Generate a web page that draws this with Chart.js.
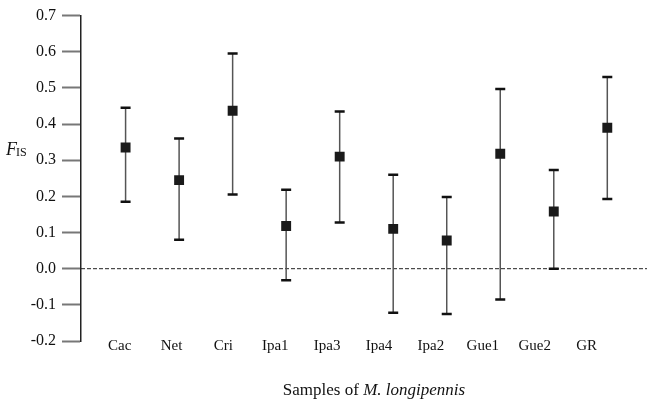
<!DOCTYPE html>
<html>
<head>
<meta charset="utf-8">
<script src="https://cdn.jsdelivr.net/npm/chart.js@4.4.0/dist/chart.umd.min.js"></script>
<style>
  html, body { margin: 0; padding: 0; background: #fff; }
  #wrap { width: 647px; height: 403px; }
</style>
</head>
<body>
<div id="wrap"><canvas id="fisChart" width="647" height="403"></canvas></div>
<script>
// samples and F_IS estimates with interval bounds
const samples = ["Cac", "Net", "Cri", "Ipa1", "Ipa3", "Ipa4", "Ipa2", "Gue1", "Gue2", "GR"];
const fisValues = [0.335, 0.245, 0.437, 0.118, 0.31, 0.11, 0.078, 0.318, 0.158, 0.39];
const upperValues = [0.445, 0.36, 0.595, 0.218, 0.435, 0.26, 0.198, 0.497, 0.273, 0.53];
const lowerValues = [0.185, 0.08, 0.205, -0.032, 0.128, -0.122, -0.125, -0.085, 0.0, 0.193];
const yTicks = [-0.2, -0.1, 0.0, 0.1, 0.2, 0.3, 0.4, 0.5, 0.6, 0.7];

const serif = "'Liberation Serif', 'DejaVu Serif', serif";

const points = samples.map((s, i) => ({ x: i, y: fisValues[i] }));

// error bars, zero line, category labels and axis titles
const extras = {
  id: "extras",
  beforeDatasetsDraw(chart) {
    const { ctx, chartArea } = chart;
    const xs = chart.scales.x;
    const ys = chart.scales.y;
    ctx.save();
    // dashed zero line
    const y0 = ys.getPixelForValue(0);
    ctx.strokeStyle = "#222";
    ctx.lineWidth = 1;
    ctx.setLineDash([4, 2]);
    ctx.beginPath();
    ctx.moveTo(chartArea.left, y0);
    ctx.lineTo(chart.width, y0);
    ctx.stroke();
    ctx.setLineDash([]);
    // error bars
    samples.forEach((s, i) => {
      const x = xs.getPixelForValue(i);
      const yt = ys.getPixelForValue(upperValues[i]);
      const yb = ys.getPixelForValue(lowerValues[i]);
      ctx.strokeStyle = "#555";
      ctx.lineWidth = 1.5;
      ctx.beginPath();
      ctx.moveTo(x, yt);
      ctx.lineTo(x, yb);
      ctx.stroke();
      ctx.strokeStyle = "#111";
      ctx.lineWidth = 2.5;
      ctx.beginPath();
      ctx.moveTo(x - 5, yt);
      ctx.lineTo(x + 5, yt);
      ctx.moveTo(x - 5, yb);
      ctx.lineTo(x + 5, yb);
      ctx.stroke();
    });
    ctx.restore();
  },
  afterDraw(chart) {
    const { ctx, chartArea } = chart;
    const xl = chart.scales.xLabels;
    ctx.save();
    ctx.fillStyle = "#111";
    // category labels
    ctx.font = "15px " + serif;
    ctx.textAlign = "center";
    ctx.textBaseline = "middle";
    samples.forEach((s, i) => {
      ctx.fillText(s, xl.getPixelForValue(i), chartArea.bottom + 5);
    });
    ctx.textBaseline = "alphabetic";
    // y title F_IS
    ctx.textAlign = "left";
    ctx.font = "italic 18px " + serif;
    ctx.fillText("F", 6, 155);
    ctx.font = "12px " + serif;
    ctx.fillText("IS", 16, 156);
    // x title
    ctx.font = "17px " + serif;
    const a = "Samples of ";
    const wa = ctx.measureText(a).width;
    ctx.font = "italic 17px " + serif;
    const b = "M. longipennis";
    const wb = ctx.measureText(b).width;
    const start = 374 - (wa + wb) / 2;
    ctx.font = "17px " + serif;
    ctx.fillText(a, start, 395);
    ctx.font = "italic 17px " + serif;
    ctx.fillText(b, start + wa, 395);
    ctx.restore();
  }
};

new Chart(document.getElementById("fisChart").getContext("2d"), {
  type: "scatter",
  data: {
    datasets: [
      {
        label: "FIS",
        data: points,
        xAxisID: "x",
        yAxisID: "y",
        pointStyle: "rect",
        pointRadius: 7,
        pointHoverRadius: 7,
        backgroundColor: "#1a1a1a",
        borderColor: "#1a1a1a",
        borderWidth: 0,
      },
    ],
  },
  options: {
    responsive: false,
    animation: false,
    layout: { padding: { top: 13, right: 2, left: 0, bottom: 62 } },
    plugins: {
      legend: { display: false },
      tooltip: { enabled: false },
    },
    scales: {
      x: {
        type: "linear",
        display: false,
        min: -0.833,
        max: 9.611,
      },
      xLabels: {
        type: "linear",
        position: "bottom",
        display: false,
        min: -0.745,
        max: 10.03,
      },
      y: {
        type: "linear",
        min: -0.2,
        max: 0.7,
        afterBuildTicks(scale) {
          scale.ticks = yTicks.map((v) => ({ value: v }));
        },
        afterFit(scale) { scale.width = 81; },
        grid: {
          drawOnChartArea: false,
          drawTicks: true,
          tickLength: 19,
          tickColor: "#777",
          tickWidth: 2,
        },
        border: { display: true, color: "#222", width: 1.5 },
        ticks: {
          padding: 6,
          color: "#111",
          font: { family: serif, size: 16 },
          callback: (v) => v.toFixed(1),
        },
      },
    },
  },
  plugins: [extras],
});
</script>
</body>
</html>
